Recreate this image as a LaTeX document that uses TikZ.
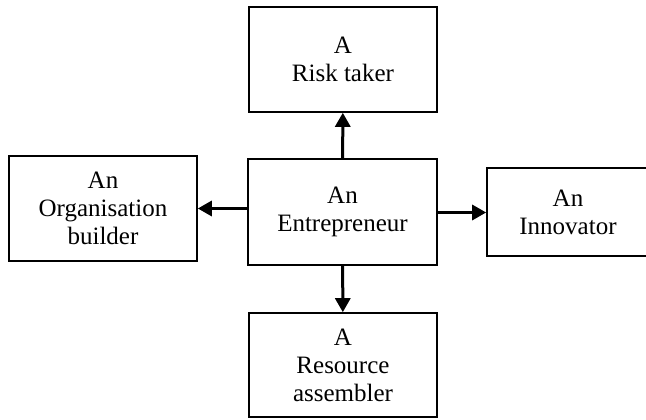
\documentclass[tikz,border=0pt]{standalone}
\usepackage{fontspec}
\setmainfont{Liberation Serif}
\usetikzlibrary{arrows.meta}
\tikzset{
	role/.style = {draw, line width = 1.6pt, align = center, inner sep = 0pt,
		font = \fontsize{25}{28}\selectfont},
	link/.style = {line width = 3pt, -{Triangle[length = 14pt, width = 15pt]}}
}
\begin{document}
\begin{tikzpicture}[x = 1pt, y = 1pt]
		\useasboundingbox (0, 0) rectangle (646, 420);
		% the five roles, centres
		\foreach \name/\x/\y/\w/\h/\txt in {
			ent/342.5/208/189/106/{An\\Entrepreneur},
			risk/343/360.5/188/105/{A\\Risk taker},
			org/103/211.5/188/105/{An\\Organisation\\builder},
			inn/568/208/162/88/{An\\Innovator},
			res/343/55/188/104/{A\\Resource\\assembler}}{
			\node[role, minimum width = \w pt, minimum height = \h pt] (\name) at (\x, \y) {\txt};}
		% arrows out of the centre
		\draw[link] (ent) -- (risk);
		\draw[link] (ent) -- (res);
		\draw[link] (ent.west |- org) -- (org.east);
		\draw[link] (ent.east |- 0, 207.5) -- (inn.west |- 0, 207.5);
		\end{tikzpicture}
\end{document}
